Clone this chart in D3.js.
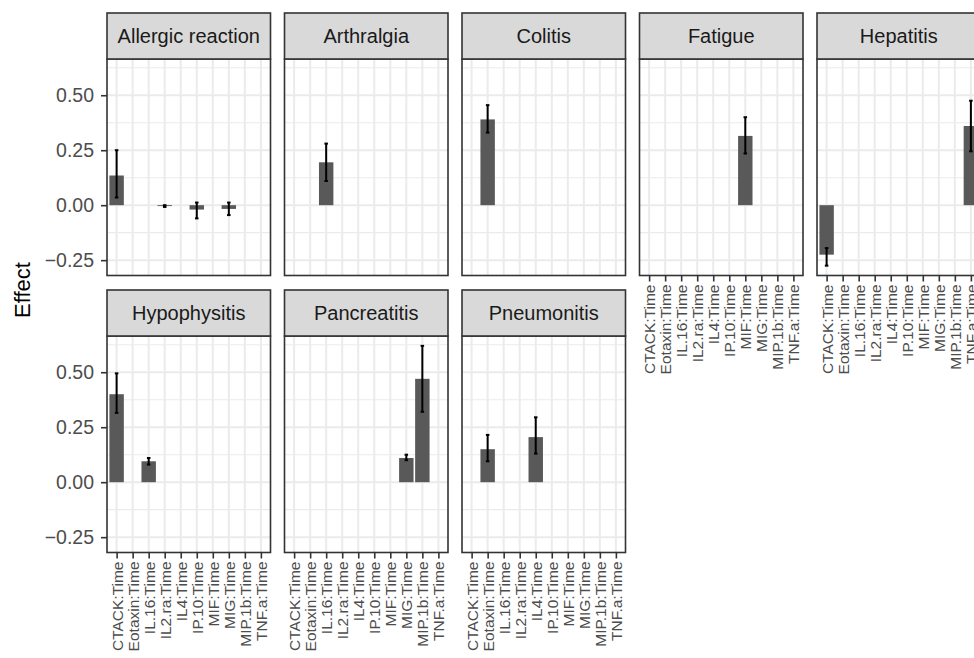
<!DOCTYPE html>
<html>
<head>
<meta charset="utf-8">
<script src="https://cdn.jsdelivr.net/npm/d3@7"></script>
<style>
  html, body { margin: 0; padding: 0; background: #fff; }
  svg { display: block; font-family: "Liberation Sans", Arial, sans-serif; }
</style>
</head>
<body>
<div id="chart"></div>
<script>
// facets in wrap order (5 columns)
const facets = ["Allergic reaction", "Arthralgia", "Colitis", "Fatigue", "Hepatitis",
                "Hypophysitis", "Pancreatitis", "Pneumonitis"];

const terms = ["CTACK:Time", "Eotaxin:Time", "IL.16:Time", "IL2.ra:Time", "IL4:Time",
               "IP.10:Time", "MIF:Time", "MIG:Time", "MIP.1b:Time", "TNF.a:Time"];

// one entry per bar
const rowFacet = ["Allergic reaction", "Allergic reaction", "Allergic reaction", "Allergic reaction",
                  "Arthralgia", "Colitis", "Fatigue", "Hepatitis", "Hepatitis",
                  "Hypophysitis", "Hypophysitis", "Pancreatitis", "Pancreatitis",
                  "Pneumonitis", "Pneumonitis"];
const rowTerm = ["CTACK:Time", "IL2.ra:Time", "IP.10:Time", "MIG:Time",
                 "IL.16:Time", "Eotaxin:Time", "MIF:Time", "CTACK:Time", "TNF.a:Time",
                 "CTACK:Time", "IL.16:Time", "MIG:Time", "MIP.1b:Time",
                 "Eotaxin:Time", "IL4:Time"];
const rowEffect = [0.135, -0.004, -0.02, -0.017, 0.195, 0.39, 0.315, -0.225, 0.36,
                   0.40, 0.095, 0.11, 0.47, 0.15, 0.205];
const rowLower = [0.035, -0.008, -0.06, -0.045, 0.11, 0.33, 0.235, -0.275, 0.245,
                  0.315, 0.08, 0.10, 0.32, 0.095, 0.13];
const rowUpper = [0.25, 0.0, 0.012, 0.012, 0.28, 0.455, 0.40, -0.195, 0.475,
                  0.495, 0.11, 0.125, 0.62, 0.215, 0.295];

const yTicks = [-0.25, 0, 0.25, 0.5];
const yMinor = [-0.125, 0.125, 0.375, 0.625];

const rows = rowFacet.map((f, i) => ({
    facet: f, term: rowTerm[i], effect: rowEffect[i], lo: rowLower[i], hi: rowUpper[i]
}));

// layout
const W = 974, H = 658;
const nCol = 5;
const panelW = 163.5, panelH = 216.5, colStep = 177.5;
const left0 = 107;
const stripH = 46;
const rowTop = [13, 290];   // strip top for each row

const svg = d3.select("#chart").append("svg")
    .attr("width", W)
    .attr("height", H);

// shared y domain like ggplot (5% expansion, bars start at 0)
const yMin = d3.min(rows, d => Math.min(0, d.lo));
const yMax = d3.max(rows, d => Math.max(0, d.hi));
const pad = (yMax - yMin) * 0.05;

const x = d3.scalePoint().domain(terms).range([0, panelW]).padding(0.6);
const step = x.step();

facets.forEach((name, i) => {
    const col = i % nCol, row = Math.floor(i / nCol);
    const px = left0 + col * colStep;
    const sTop = rowTop[row];
    const pTop = sTop + stripH;

    const y = d3.scaleLinear().domain([yMin - pad, yMax + pad]).range([panelH, 0]);

    const g = svg.append("g").attr("transform", `translate(${px},${pTop})`);

    // grid
    g.selectAll(".minor").data(yMinor.filter(v => v > yMin - pad && v < yMax + pad))
        .enter().append("line")
        .attr("x1", 0).attr("x2", panelW)
        .attr("y1", d => y(d)).attr("y2", d => y(d))
        .attr("stroke", "#EBEBEB").attr("stroke-width", 1.1);
    g.selectAll(".hmajor").data(yTicks)
        .enter().append("line")
        .attr("x1", 0).attr("x2", panelW)
        .attr("y1", d => y(d)).attr("y2", d => y(d))
        .attr("stroke", "#EBEBEB").attr("stroke-width", 2);
    g.selectAll(".vmajor").data(terms)
        .enter().append("line")
        .attr("y1", 0).attr("y2", panelH)
        .attr("x1", d => x(d)).attr("x2", d => x(d))
        .attr("stroke", "#EBEBEB").attr("stroke-width", 2);

    const data = rows.filter(d => d.facet === name);

    // bars
    const bw = step * 0.9;
    g.selectAll(".bar").data(data)
        .enter().append("rect")
        .attr("x", d => x(d.term) - bw / 2)
        .attr("width", bw)
        .attr("y", d => y(Math.max(0, d.effect)))
        .attr("height", d => Math.max(0.8, Math.abs(y(d.effect) - y(0))))
        .attr("fill", "#595959");

    // error bars
    const cw = step * 0.22;
    const eb = g.selectAll(".err").data(data).enter().append("g")
        .attr("stroke", "#000").attr("stroke-width", 2).attr("fill", "none");
    eb.append("line")
        .attr("x1", d => x(d.term)).attr("x2", d => x(d.term))
        .attr("y1", d => y(d.lo)).attr("y2", d => y(d.hi));
    eb.append("line")
        .attr("x1", d => x(d.term) - cw / 2).attr("x2", d => x(d.term) + cw / 2)
        .attr("y1", d => y(d.hi)).attr("y2", d => y(d.hi));
    eb.append("line")
        .attr("x1", d => x(d.term) - cw / 2).attr("x2", d => x(d.term) + cw / 2)
        .attr("y1", d => y(d.lo)).attr("y2", d => y(d.lo));

    // panel border
    g.append("rect")
        .attr("width", panelW).attr("height", panelH)
        .attr("fill", "none").attr("stroke", "#333").attr("stroke-width", 1.6);

    // strip
    svg.append("rect")
        .attr("x", px).attr("y", sTop)
        .attr("width", panelW).attr("height", stripH)
        .attr("fill", "#D9D9D9").attr("stroke", "#333").attr("stroke-width", 1.6);
    svg.append("text")
        .attr("x", px + panelW / 2).attr("y", sTop + stripH / 2)
        .attr("dy", "0.36em")
        .attr("text-anchor", "middle")
        .attr("font-size", "20px")
        .attr("fill", "#1A1A1A")
        .text(name);

    // y axis on first column
    if (col === 0) {
        const ya = g.append("g")
            .call(d3.axisLeft(y).tickValues(yTicks).tickFormat(d3.format(".2f")).tickSize(6).tickPadding(7));
        ya.select(".domain").remove();
        ya.selectAll("line").attr("stroke", "#333").attr("stroke-width", 1.6);
        ya.selectAll("text").attr("font-size", "19.5px").attr("fill", "#4D4D4D")
            .attr("font-family", "Liberation Sans, Arial, sans-serif");
    }

    // x axis on bottom panels of each column
    const below = i + nCol;
    if (below >= facets.length) {
        const xa = g.append("g")
            .attr("transform", `translate(0,${panelH})`)
            .call(d3.axisBottom(x).tickSize(6).tickSizeOuter(0));
        xa.select(".domain").remove();
        xa.selectAll("line").attr("stroke", "#333").attr("stroke-width", 1.6);
        xa.selectAll("text")
            .attr("font-size", "15.5px").attr("fill", "#4D4D4D")
            .attr("font-family", "Liberation Sans, Arial, sans-serif")
            .attr("text-anchor", "end")
            .attr("transform", "rotate(-90)")
            .attr("x", -9).attr("y", 0).attr("dy", "0.36em");
    }
});

// y title
svg.append("text")
    .attr("transform", `translate(30,${290}) rotate(-90)`)
    .attr("text-anchor", "middle")
    .attr("font-size", "22px")
    .attr("fill", "#000")
    .text("Effect");
</script>
</body>
</html>
